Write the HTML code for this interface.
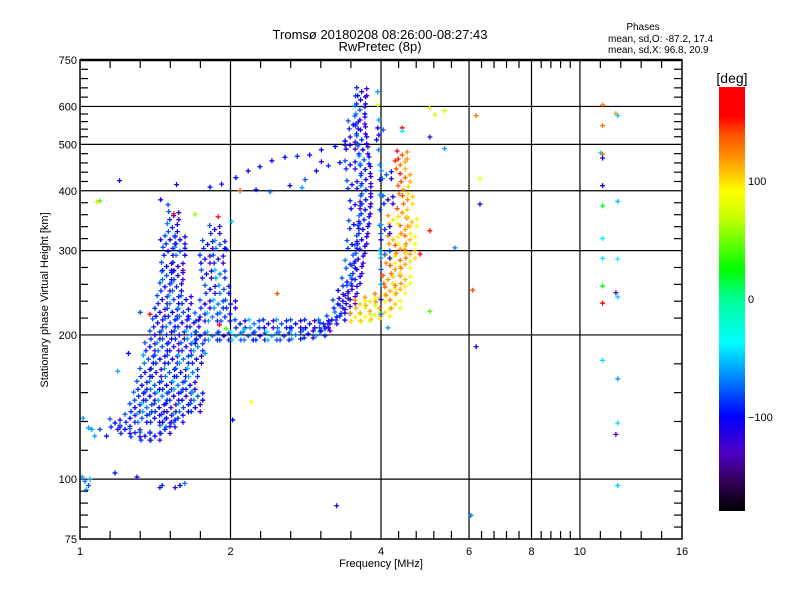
<!DOCTYPE html>
<html><head><meta charset="utf-8"><style>
html,body{margin:0;padding:0;background:#fff;}
svg text{font-family:"Liberation Sans","DejaVu Sans",sans-serif;fill:#000;}
</style></head><body>
<svg id="chart" xmlns="http://www.w3.org/2000/svg" width="800" height="600" viewBox="0 0 800 600">
<rect x="0" y="0" width="800" height="600" fill="#fff"/>
<text x="380" y="39" font-size="13" text-anchor="middle">Tromsø 20180208 08:26:00-08:27:43</text>
<text x="380" y="51" font-size="13" text-anchor="middle">RwPretec (8p)</text>
<text x="643" y="30" font-size="10" text-anchor="middle">Phases</text>
<text x="608" y="42" font-size="10">mean, sd,O: -87.2, 17.4</text>
<text x="608" y="53" font-size="10">mean, sd,X:  96.8, 20.9</text>
<g id="grid"></g>
<g id="marks"></g>
<g id="axes"></g>
<text x="381" y="567" font-size="11" text-anchor="middle">Frequency [MHz]</text>
<text x="48" y="300" font-size="11" text-anchor="middle" transform="rotate(-90 48 300)">Stationary phase Virtual Height [km]</text>
<defs><linearGradient id="cbgrad" x1="0" y1="1" x2="0" y2="0"></linearGradient></defs>
<g id="colorbar"></g>
<text x="732" y="83" font-size="14" text-anchor="middle">[deg]</text>
</svg>
<script>
// ---- axis data ----
const xMajorTicks = [1, 2, 4, 6, 8, 10, 16];
const yMajorTicks = [75, 100, 200, 300, 400, 500, 600, 750];
const xGridValues = [2, 4, 6, 8, 10];
const yGridValues = [100, 200, 300, 400, 500, 600];
const colorbarTicks = [100, 0, -100];
const phaseRange = [-180, 180];

// ---- series data: [frequency MHz, virtual height km, phase deg] ----
const leftColumn = [
[1.175,131,-100],[1.230,127,-100],[1.288,125,-95],[1.349,123,-100],[1.412,123,-100],[1.479,127,-95],[1.514,131,-90],
[1.259,134,-100],[1.33,134,-80],[1.41,134,-100],[1.49,134,-110],[1.57,134,-90],
[1.288,141,-100],[1.36,141,-70],[1.44,141,-100],[1.52,141,-120],[1.61,141,-80],[1.70,141,-100],
[1.31,149,-90],[1.38,149,-100],[1.46,149,-70],[1.54,149,-100],[1.63,149,-110],[1.72,149,-80],
[1.33,157,-100],[1.41,157,-80],[1.49,157,-100],[1.57,157,-70],[1.66,157,-100],
[1.349,167,-100],[1.42,167,-110],[1.51,167,-80],[1.59,167,-100],[1.68,167,-70],
[1.37,178,-80],[1.445,178,-100],[1.53,178,-100],[1.61,178,-70],[1.71,178,-100],
[1.38,189,-100],[1.46,189,-80],[1.54,189,-110],[1.63,189,-100],[1.72,189,-70],
[1.412,200,-100],[1.49,200,-90],[1.58,200,-100],[1.67,200,-70],
[1.43,212,-100],[1.514,212,-80],[1.60,212,-100],[1.69,212,-100],
[1.445,223,-110],[1.53,223,-100],[1.61,223,-80],
[1.46,237,-100],[1.54,237,-80],[1.63,237,-100],
[1.479,252,-100],[1.56,252,-90],
[1.49,266,-80],[1.57,266,-100],
[1.49,278,-100],[1.57,278,-110],
[1.50,299,-100],[1.585,299,-80],
[1.514,316,-100],[1.585,316,-100],
[1.53,335,-90],[1.54,355,-100]
];
const secondColumn = [
[1.86,332,-100],[1.80,309,-100],[1.905,309,-80],[1.778,288,-110],[1.89,288,-100],
[1.79,268,-100],[1.905,268,-70],[1.82,249,-100],[1.94,249,-80],
[1.778,232,-100],[1.89,232,-70],[2.0,232,-100],[1.738,218,-100],[1.84,218,-70],[1.95,218,-90]
];
const bottomBand = [
[1.738,199,-100],[1.84,199,-70],[1.94,199,-100],[2.05,199,-60],[2.17,199,-80],[2.29,199,-100],
[2.42,199,-60],[2.56,199,-90],[2.70,200,-70],[2.86,201,-100],[3.02,203,-70],
[2.09,211,-100],[2.23,211,-70],[2.38,211,-110],[2.53,211,-80],[2.70,211,-100],[2.88,211,-110],[3.07,211,-90]
];
const oCusp = [
[3.19,215,-100],[3.31,219,-90],[3.39,226,-100],[3.47,237,-110],[3.50,249,-100],[3.55,261,-90],
[3.58,274,-100],[3.60,288,-100],[3.63,302,-90],[3.66,316,-100],[3.68,332,-100],[3.70,348,-90],
[3.72,365,-100],[3.73,383,-100],[3.73,402,-90],[3.73,422,-100],[3.72,443,-100],[3.70,464,-80],
[3.68,487,-100],[3.66,511,-90],[3.64,536,-100],[3.63,562,-100],[3.63,590,-80],[3.64,619,-100],[3.66,644,-110],
[3.09,208,-110],[3.28,232,-100],[3.36,243,-120],[3.42,258,-100],[3.47,281,-90],[3.50,309,-100],
[3.53,340,-100],[3.55,374,-110],[3.50,412,-100],[3.47,453,-100],[3.47,498,-110],[3.52,549,-100]
];
const xTrace = [
[3.55,218,95],[3.72,218,92],[3.89,220,95],[4.07,223,100],[4.27,232,105],[3.63,232,105],
[3.80,235,100],[3.98,239,110],[4.17,247,115],[4.37,249,110],[4.47,261,110],[4.27,274,120],
[4.47,281,115],[4.57,295,120],[4.37,302,120],[4.57,316,110],[4.47,332,115],[4.61,344,110],
[4.41,360,120],[4.52,383,120],[4.43,402,120],[4.47,426,130],[4.37,453,130],[4.41,475,140],
[4.13,261,120],[4.17,288,115],[4.23,316,110],[4.23,348,100]
];
const xGapBlue = [[4.07,332,-90],[4.13,383,-100],[4.10,432,-80],[4.07,295,-70]];
const sparsePoints = [
[1.82,407,-100],[1.92,413,-110],[2.05,426,-100],[2.17,440,-110],[2.29,449,-100],[2.42,462,-110],
[2.57,470,-100],[2.72,472,-90],[2.88,475,-100],[3.04,487,-110],[3.24,495,-100],[3.39,508,-100],
[3.47,518,-110],[2.09,400,-60],[2.25,402,-100],[2.40,398,-70],[2.63,410,-100],[2.82,422,-80],
[2.97,440,-100],[3.14,451,-90],[3.31,458,-100],[2.78,406,-60],[3.04,460,-120],[3.39,498,-120],
[3.94,644,-60],[3.94,604,80],[3.96,562,-60],[3.96,523,-100],[3.96,487,-70],[3.98,453,-60],
[3.98,422,-100],[3.98,392,-60],[3.98,365,-80],[4.00,340,-60],[4.00,316,-100],[4.00,295,-60],
[4.00,274,-80],[4.00,255,-60],[4.00,237,-100],[4.00,221,-70],[3.94,541,-100],[4.04,536,-80],[3.92,511,-100],
[4.41,541,160],[4.41,533,-40],[5.0,596,85],[5.13,576,70],[5.36,588,75],[6.2,574,130],
[5.01,518,-120],[5.36,490,-60],[6.31,424,90],[6.31,375,-120],[6.1,248,140],[5.01,224,40],
[5.62,304,-70],[4.13,207,-60],[6.2,189,-110],[6.05,84,-70],[5.01,330,175],[4.79,295,160],
[11.1,604,130],[11.1,547,130],[11.8,580,120],[11.9,574,-50],[11.0,480,-50],[11.1,477,130],
[11.1,468,-100],[11.1,410,-100],[11.1,372,20],[11.9,380,-50],[11.1,318,-40],[11.1,289,-40],
[11.9,288,-40],[11.1,253,20],[11.8,245,-130],[11.9,240,-50],[11.1,233,160],[11.1,177,-45],
[11.9,162,-60],[11.9,131,-45],[11.8,124,-130],[11.9,97,-50],
[1.01,101,-60],[1.023,99,-70],[1.04,97,-80],[1.047,100,-60],[1.03,95,-60],[1.175,103,-100],
[1.30,101,-110],[1.445,96,-120],[1.46,97,-90],[1.55,96,-120],[1.585,97,-100],[1.62,98,-70],
[3.26,88,-110],[1.014,134,-60],[1.04,128,-60],[1.07,123,-60],[1.096,127,-80],[1.13,123,-100],
[2.02,133,-100],[2.20,145,90],[2.48,244,140],[1.38,221,160],[1.08,379,100],[1.096,381,40],
[1.54,358,170],[1.89,353,170],[1.70,357,60],[2.01,345,-50],[1.20,420,-110],[1.56,412,-100],
[1.45,383,-100],[1.50,374,-80],[2.09,400,140],[1.45,316,-110],[1.32,223,-80],[1.25,183,-100],
[1.19,168,-60],[1.96,302,-100],[1.96,206,40],[1.90,210,170],[1.67,152,-60],[1.19,127,-120],
[1.056,127,-60],[1.70,192,-110],[1.78,183,-60],[2.13,206,-50],[2.63,207,-110]
];

// ---- scales ----
const PL = 80, PR = 682, PT = 60, PB = 539;
const xMin = 1, xMax = 16, yMin = 75, yMax = 750;
function xScale(f){ return PL + (PR-PL) * Math.log(f/xMin) / Math.log(xMax/xMin); }
function yScale(h){ return PB - (PB-PT) * Math.log(h/yMin) / Math.log(yMax/yMin); }
const CB_X = 719, CB_W = 26, CB_T = 87, CB_B = 511;
function cbScale(p){ return CB_B - (CB_B-CB_T) * (p-phaseRange[0])/(phaseRange[1]-phaseRange[0]); }

const cmapStops = [[-180,0,0,0],[-155,50,0,90],[-130,80,0,200],[-100,0,0,255],[-70,0,120,255],[-37,0,255,255],[0,0,255,150],[25,0,255,0],[70,200,255,0],[92,255,255,0],[115,255,165,0],[140,255,80,0],[155,255,0,0],[180,255,0,0]];
function phaseColor(p){
  p = Math.max(-180, Math.min(180, p));
  for (let i=0;i<cmapStops.length-1;i++){
    const a=cmapStops[i], b=cmapStops[i+1];
    if (p>=a[0] && p<=b[0]){
      const t=(p-a[0])/(b[0]-a[0]||1);
      return 'rgb('+Math.round(a[1]+t*(b[1]-a[1]))+','+Math.round(a[2]+t*(b[2]-a[2]))+','+Math.round(a[3]+t*(b[3]-a[3]))+')';
    }
  }
  return 'rgb(255,0,0)';
}
const NS='http://www.w3.org/2000/svg';
function mk(tag, attrs, parent){ const e=document.createElementNS(NS,tag); for(const k in attrs) e.setAttribute(k, attrs[k]); parent.appendChild(e); return e; }

// grid
const grid = document.getElementById('grid');
xGridValues.forEach(v=>{
  const l = mk('line',{x1:xScale(v),x2:xScale(v),y1:PT,y2:PB,stroke:'#000','stroke-width':1.2},grid);
  
  
});
yGridValues.forEach(v=>{
  const l = mk('line',{x1:PL,x2:PR,y1:yScale(v),y2:yScale(v),stroke:'#000','stroke-width':1.2},grid);
  
  
});

// marks
const marks = document.getElementById('marks');
function cross(x,y,c,g){
  mk('path',{d:'M'+(x-2.5)+' '+y+'H'+(x+2.5)+'M'+x+' '+(y-2.5)+'V'+(y+2.5),stroke:c,'stroke-width':1.3,fill:'none'},g);
}
const blobOffsets = [[0,0,0],[-5,-4,20],[5,-3,-15],[-4,4,10],[5,4,-20]];
function drawDense(arr, name){
  arr.forEach(d=>{
    const g = mk('g',{},marks);
    
    
    const x=xScale(d[0]), y=yScale(d[1]);
    blobOffsets.forEach(o=>cross(x+o[0], y+o[1], phaseColor(d[2]+o[2]), g));
  });
}
drawDense(leftColumn,'o-trace-left-point');
drawDense(secondColumn,'o-trace-second-point');
drawDense(bottomBand,'f-bottom-point');
drawDense(oCusp,'o-cusp-point');
drawDense(xTrace,'x-trace-point');
drawDense(xGapBlue,'o-trace-point');
sparsePoints.forEach(d=>{
  const g = mk('g',{},marks);
  
  
  cross(xScale(d[0]), yScale(d[1]), phaseColor(d[2]), g);
});

// axes frame & ticks
const axes = document.getElementById('axes');
mk('rect',{x:PL,y:PT,width:PR-PL,height:PB-PT,fill:'none',stroke:'#000','stroke-width':1.5},axes);
mk('line',{x1:PL,x2:PR,y1:PT,y2:PT,stroke:'#000','stroke-width':2.5},axes);
for (let i=0;i<xMajorTicks.length-1;i++){
  const a=xMajorTicks[i], b=xMajorTicks[i+1];
  for (let k=1;k<5;k++){
    const v = a*Math.pow(b/a,k/5), x=xScale(v);
    mk('line',{x1:x,x2:x,y1:PB,y2:PB-8,stroke:'#000','stroke-width':1.2},axes);
    mk('line',{x1:x,x2:x,y1:PT,y2:PT+8,stroke:'#000','stroke-width':1.2},axes);
  }
}
for (let i=0;i<yMajorTicks.length-1;i++){
  const a=yMajorTicks[i], b=yMajorTicks[i+1];
  for (let k=1;k<5;k++){
    const v = a*Math.pow(b/a,k/5), y=yScale(v);
    mk('line',{x1:PL,x2:PL+8,y1:y,y2:y,stroke:'#000','stroke-width':1.2},axes);
    mk('line',{x1:PR,x2:PR-8,y1:y,y2:y,stroke:'#000','stroke-width':1.2},axes);
  }
}
xMajorTicks.forEach(v=>{
  const t = mk('text',{x:xScale(v),y:555,'font-size':11,'text-anchor':'middle'},axes);
  
  
  t.textContent = v;
});
yMajorTicks.forEach(v=>{
  const t = mk('text',{x:PL-3,y:yScale(v)+4,'font-size':11,'text-anchor':'end'},axes);
  
  
  t.textContent = v;
});

// colorbar
const grad = document.getElementById('cbgrad');
cmapStops.forEach(s=>{
  mk('stop',{offset:((s[0]-phaseRange[0])/(phaseRange[1]-phaseRange[0])*100)+'%','stop-color':phaseColor(s[0])},grad);
});
const cb = document.getElementById('colorbar');
const cbr = mk('rect',{x:CB_X,y:CB_T,width:CB_W,height:CB_B-CB_T,fill:'url(#cbgrad)'},cb);


colorbarTicks.forEach(v=>{
  const t = mk('text',{x:CB_X+CB_W+3,y:cbScale(v)+4,'font-size':11},cb);
  
  
  t.textContent = v===-100 ? '\u2212100' : v;
});
</script>
</body></html>
